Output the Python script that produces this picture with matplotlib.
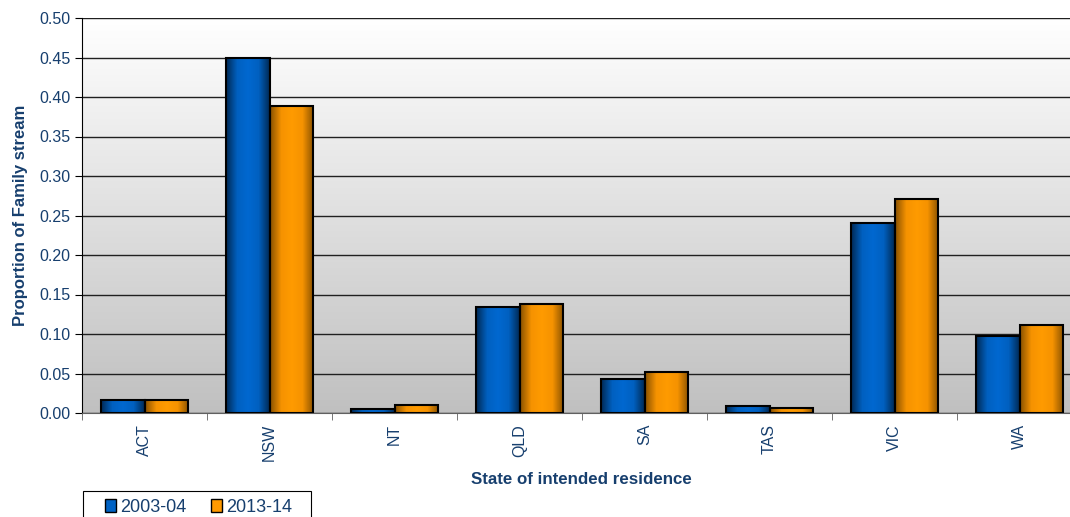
import numpy as np
import matplotlib.pyplot as plt
from matplotlib.colors import LinearSegmentedColormap
from matplotlib.patches import Rectangle

plt.rcParams['font.family'] = ['Liberation Sans', 'DejaVu Sans']

states = ['ACT', 'NSW', 'NT', 'QLD', 'SA', 'TAS', 'VIC', 'WA']
share_2003 = [0.016, 0.450, 0.005, 0.134, 0.043, 0.009, 0.240, 0.098]
share_2013 = [0.017, 0.389, 0.010, 0.138, 0.052, 0.006, 0.271, 0.112]
series_names = ['2003-04', '2013-14']

txt = '#173f6e'
blue_cm = LinearSegmentedColormap.from_list('b', ['#002a55', '#0060c0', '#0068d0', '#0060c0', '#002a55'])
orng_cm = LinearSegmentedColormap.from_list('o', ['#8a5200', '#f59200', '#ff9b00', '#f59200', '#8a5200'])

W, H = 1070, 517
fig = plt.figure(figsize=(W / 100, H / 100), dpi=100)
ax = fig.add_axes([82 / W, 1 - 413 / H, 988 / W, 395 / H])

x = np.arange(len(states))
w = 0.35
xmax = -0.5 + 988 / 125

# background: vertical gradient white -> grey
bg = np.linspace(0, 1, 256).reshape(-1, 1)
bg_cm = LinearSegmentedColormap.from_list('bg', ['#c0c0c0', '#ffffff'])
ax.imshow(bg, cmap=bg_cm, aspect='auto', origin='lower',
          extent=[-0.5, xmax, 0, 0.5], zorder=0)

ax.set_yticks(np.arange(0, 0.51, 0.05))
ax.yaxis.grid(True, color='#202020', linewidth=1.0, zorder=1)
ax.set_axisbelow(True)

shade = np.linspace(0, 1, 64).reshape(1, -1)
for vals, offset, cm in [(share_2003, -w / 2, blue_cm), (share_2013, w / 2, orng_cm)]:
    for xi, v in zip(x, vals):
        left = xi + offset - w / 2
        ax.imshow(shade, cmap=cm, aspect='auto',
                  extent=[left, left + w, 0, v], zorder=2)
        ax.add_patch(Rectangle((left, 0), w, v, fill=False,
                               edgecolor='black', linewidth=1.5, zorder=3))

ax.set_xticks(x)
ax.set_xticklabels(states, rotation=90, color=txt, fontsize=11.5)
ax.set_xticks(np.arange(-0.5, 8, 1), minor=True)
ax.tick_params(axis='x', which='major', length=0, pad=8)
ax.tick_params(axis='x', which='minor', length=5, color='#606060')
ax.tick_params(axis='y', length=5, colors='black', labelcolor=txt, labelsize=11.5)
ax.set_yticklabels(['%.2f' % t for t in np.arange(0, 0.51, 0.05)])
ax.set_xlim(-0.5, xmax)
ax.set_ylim(0, 0.5)

for s in ['top', 'right']:
    ax.spines[s].set_visible(False)
ax.spines['left'].set_color('black')
ax.spines['bottom'].set_color('#606060')

ax.set_ylabel('Proportion of Family stream', fontsize=12, fontweight='bold', color=txt, labelpad=8)
ax.set_xlabel('State of intended residence', fontsize=12.2, fontweight='bold', color=txt, labelpad=9)
ax.xaxis.set_label_coords(581 / W, 1 - 480 / H, transform=fig.transFigure)
ax.xaxis.label.set_va('center')

# legend box at the bottom-left, running off the lower edge
fig.patches.append(Rectangle((83 / W, -10 / H), 228 / W, 36 / H, transform=fig.transFigure,
                             fill=False, edgecolor='black', linewidth=0.8))
handles = [Rectangle((0, 0), 1, 1, facecolor='#0062c4', edgecolor='black'),
           Rectangle((0, 0), 1, 1, facecolor='#ff9900', edgecolor='black')]
leg = fig.legend(handles, series_names, loc='center left',
                 bbox_to_anchor=(105 / W, 1 - 507 / H), ncol=2, frameon=False,
                 fontsize=13, handlelength=0.6, handleheight=0.7, handletextpad=0.25,
                 columnspacing=1.35, borderpad=0, borderaxespad=0)
for t in leg.get_texts():
    t.set_color(txt)

fig.savefig('out.png', dpi=100)
